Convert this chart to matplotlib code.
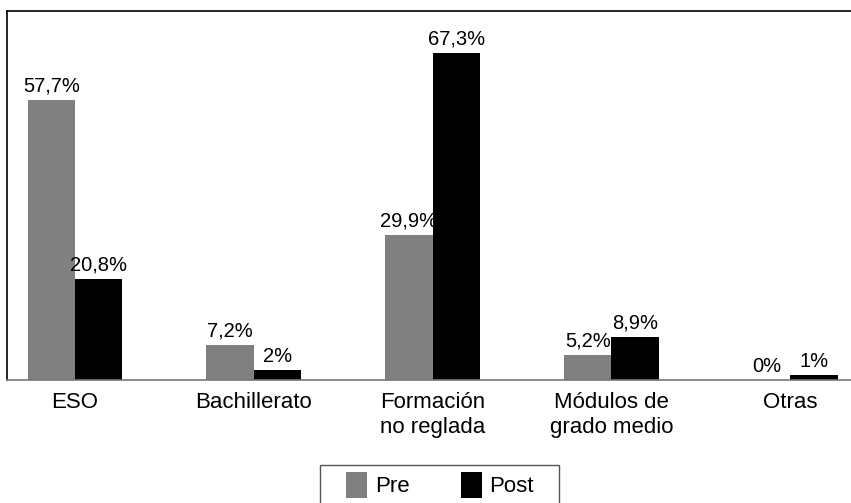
import matplotlib.pyplot as plt
import matplotlib.patches as mpatches
import numpy as np

categories = ['ESO', 'Bachillerato', 'Formación\nno reglada', 'Módulos de\ngrado medio', 'Otras']
pre = [57.7, 7.2, 29.9, 5.2, 0]
post = [20.8, 2, 67.3, 8.9, 1]
pre_labels = ['57,7%', '7,2%', '29,9%', '5,2%', '0%']
post_labels = ['20,8%', '2%', '67,3%', '8,9%', '1%']

plt.rcParams['font.family'] = ['Liberation Sans', 'DejaVu Sans']

fig = plt.figure(figsize=(8.51, 5.03), dpi=100)
ax = fig.add_axes([7 / 851, 123 / 503, 1 - 7 / 851, 369 / 503])

x = np.arange(len(categories))
w = 0.265
bars_pre = ax.bar(x - w / 2, pre, w, color='#808080', label='Pre')
bars_post = ax.bar(x + w / 2, post, w, color='#000000', label='Post')

for b, t in zip(bars_pre, pre_labels):
    ax.text(b.get_x() + b.get_width() / 2, b.get_height() + 0.9, t,
            ha='center', va='bottom', fontsize=14.5)
for b, t in zip(bars_post, post_labels):
    ax.text(b.get_x() + b.get_width() / 2, b.get_height() + 0.9, t,
            ha='center', va='bottom', fontsize=14.5)

ax.set_xlim(-0.38, 4.34)
ax.set_ylim(0, 76)
ax.set_yticks([])
ax.set_xticks(x)
ax.set_xticklabels(categories, fontsize=16, linespacing=1.25)
ax.tick_params(axis='x', length=0, pad=9)

ax.spines['right'].set_visible(False)
ax.spines['left'].set_color('black')
ax.spines['top'].set_color('black')
ax.spines['left'].set_linewidth(1.2)
ax.spines['top'].set_linewidth(1.2)
ax.spines['bottom'].set_color('#777777')
ax.spines['bottom'].set_linewidth(1.2)

# legend without its own frame, box drawn separately (wider than tall padding)
leg = fig.legend(loc='center', bbox_to_anchor=(440 / 851, 1 - 485 / 503),
                 ncol=2, fontsize=16, frameon=False,
                 handlelength=0.95, handleheight=1.4,
                 handletextpad=0.35, columnspacing=2.3, borderpad=0,
                 borderaxespad=0)
box = mpatches.Rectangle((320 / 851, -0.03), 239 / 851, 0.03 + 38 / 503,
                         transform=fig.transFigure, fill=False,
                         edgecolor='#555555', linewidth=1.0)
fig.patches.append(box)

fig.savefig('out.png', dpi=100)
